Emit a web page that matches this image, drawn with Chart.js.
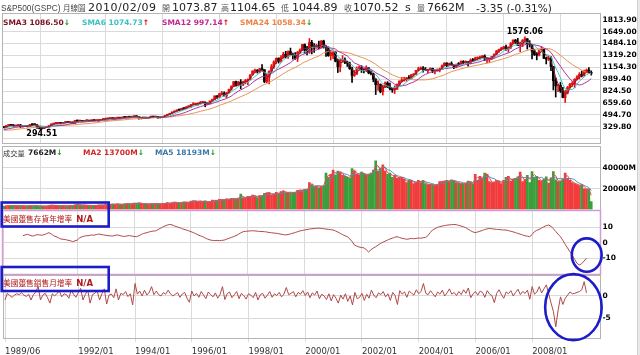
<!DOCTYPE html>
<html><head><meta charset="utf-8">
<script src="https://cdn.jsdelivr.net/npm/chart.js@4.4.1/dist/chart.umd.min.js"></script>
<style>
html,body{margin:0;padding:0;background:#fff;}
#wrap{position:relative;width:640px;height:355px;overflow:hidden;background:#fff;}
#wrap canvas{position:absolute;left:0;top:0;}
.t{position:absolute;white-space:nowrap;line-height:12px;height:12px;transform:translateY(-50%);}
.cj{font-family:"Noto Sans CJK TC","Noto Sans CJK SC",sans-serif;}
.dv{font-family:"DejaVu Sans",sans-serif;}
.b{font-weight:bold;}
.up{color:#e00000;} .dn{color:#1a9a1a;}
#strip{position:absolute;left:637px;top:0;width:3px;height:355px;background:#e8e8e8;border-left:1px solid #d0d0d0;}
</style></head><body>
<div id="wrap">
<canvas id="cPrice" width="640" height="355"></canvas>
<canvas id="cVol" width="640" height="355"></canvas>
<canvas id="cInd1" width="640" height="355"></canvas>
<canvas id="cInd2" width="640" height="355"></canvas>
<div id="strip"></div>

<div class="t" style="left:1px;top:8px;font-size:8.3px;font-family:'Liberation Sans',sans-serif;color:#444">S&amp;P500(GSPC)</div>
<div class="t cj" style="left:63px;top:8px;font-size:7.5px;color:#444">月線圖</div>
<div class="t dv" style="left:88px;top:8px;font-size:11px;letter-spacing:0.5px;color:#222">2010/02/09</div>
<div class="t cj" style="left:162px;top:8px;font-size:8px;color:#555">開</div>
<div class="t dv" style="left:172px;top:8px;font-size:11px;color:#222">1073.87</div>
<div class="t cj" style="left:221px;top:8px;font-size:8px;color:#555">高</div>
<div class="t dv" style="left:230px;top:8px;font-size:11px;color:#222">1104.65</div>
<div class="t cj" style="left:281px;top:8px;font-size:8px;color:#555">低</div>
<div class="t dv" style="left:292px;top:8px;font-size:11px;color:#222">1044.89</div>
<div class="t cj" style="left:344px;top:8px;font-size:8px;color:#555">收</div>
<div class="t dv" style="left:353px;top:8px;font-size:11px;color:#222">1070.52</div>
<div class="t dv" style="left:405px;top:8px;font-size:11px;color:#222">s</div>
<div class="t cj" style="left:417px;top:8px;font-size:8px;color:#555">量</div>
<div class="t dv" style="left:427px;top:8px;font-size:11px;color:#222">7662M</div>
<div class="t dv" style="left:476px;top:8px;font-size:10.5px;color:#222">-3.35 (-0.31%)</div>

<div class="t dv b" style="left:3px;top:22.5px;font-size:7.5px;color:#7a1020">SMA3 1086.50<span class="dn">↓</span></div>
<div class="t dv b" style="left:82px;top:22.5px;font-size:7.5px;color:#3cc0c0">SMA6 1074.73<span class="up">↑</span></div>
<div class="t dv b" style="left:162px;top:22.5px;font-size:7.5px;color:#c02890">SMA12 997.14<span class="up">↑</span></div>
<div class="t dv b" style="left:240px;top:22.5px;font-size:7.5px;color:#ee8040">SMA24 1058.34<span class="dn">↓</span></div>

<div class="t cj" style="left:3px;top:153px;font-size:7.2px;color:#333">成交量</div>
<div class="t dv b" style="left:28px;top:153px;font-size:7.5px;color:#222">7662M<span class="dn">↓</span></div>
<div class="t dv b" style="left:83px;top:153px;font-size:7.5px;color:#d02828">MA2 13700M<span class="dn">↓</span></div>
<div class="t dv b" style="left:155px;top:153px;font-size:7.5px;color:#3a7aa8">MA5 18193M<span class="dn">↓</span></div>

<div id="t1" class="t" style="left:3px;top:216.5px;color:#b01818"><span class="cj" style="font-size:7.7px">美國躉售存貨年增率</span> <span class="dv b" style="font-size:8.5px">N/A</span></div>
<div id="t2" class="t" style="left:3px;top:281px;color:#b01818"><span class="cj" style="font-size:7.7px">美國躉售銷售月增率</span> <span class="dv b" style="font-size:8.5px">N/A</span></div>
</div>

<script>
// ---------- data ----------
const priorCloses = [318.66,329.80,321.83,251.79,230.30,247.08,257.07,267.82,258.89,261.33,262.16,273.50,272.02,261.52,271.91,278.97,273.70,277.72,297.47,288.86,294.87,309.64,320.52];

const closes = [
317.98,346.08,351.45,349.15,340.36,345.99,353.40,
329.08,331.89,339.94,330.80,361.23,358.02,356.15,322.56,306.05,304.00,322.22,330.22,
343.93,367.07,375.22,375.35,389.83,371.16,387.81,395.43,387.86,392.46,375.22,417.09,
408.79,412.70,403.69,414.95,415.35,408.14,424.21,414.03,417.80,418.68,431.35,435.71,
438.78,443.38,451.67,440.19,450.19,450.53,448.13,463.56,458.93,467.83,461.79,466.45,
481.61,467.14,445.77,450.91,456.50,444.27,458.26,475.49,462.69,472.35,453.69,459.27,
470.42,487.39,500.71,514.71,533.40,544.75,562.06,561.88,584.41,581.50,605.37,615.93,
636.02,640.43,645.50,654.17,669.12,670.63,639.95,651.99,687.31,705.27,757.02,740.74,
786.16,790.82,757.12,801.34,848.28,885.14,954.31,899.47,947.28,914.62,955.40,970.43,
980.28,1049.34,1101.75,1111.75,1090.82,1133.84,1120.67,957.28,1017.01,1098.67,1163.63,1229.23,
1279.64,1238.33,1286.37,1335.18,1301.84,1372.71,1328.72,1320.41,1282.71,1362.93,1388.91,1469.25,
1394.46,1366.42,1498.58,1452.43,1420.60,1454.60,1430.83,1517.68,1436.51,1429.40,1314.95,1320.28,
1366.01,1239.94,1160.33,1249.46,1255.82,1224.42,1211.23,1133.58,1040.94,1059.78,1139.45,1148.08,
1130.20,1106.73,1147.39,1076.92,1067.14,989.82,911.62,916.07,815.28,885.76,936.31,879.82,
855.70,841.15,848.18,916.92,963.59,974.50,990.31,1008.01,995.97,1050.71,1058.20,1111.92,
1131.13,1144.94,1126.21,1107.30,1120.68,1140.84,1101.72,1104.24,1114.58,1130.20,1173.82,1211.92,
1181.27,1203.60,1180.59,1156.85,1191.50,1191.33,1234.18,1220.33,1228.81,1207.01,1249.48,1248.29,
1280.08,1280.66,1294.83,1310.61,1270.09,1270.20,1276.66,1303.82,1335.85,1377.94,1400.63,1418.30,
1438.24,1406.82,1420.86,1482.37,1530.62,1503.35,1455.27,1473.99,1526.75,1549.38,1481.14,1468.36,
1378.55,1330.63,1322.70,1385.59,1400.38,1280.00,1267.38,1282.83,1166.36,968.75,896.24,903.25,
825.88,735.09,797.87,872.81,919.14,919.32,987.48,1020.62,1057.08,1036.19,1095.63,1115.10,
1073.87,1070.52];

const highs = [
328.0,346.5,360.0,354.0,360.4,347.0,359.0,
360.6,336.1,344.5,344.3,361.5,368.0,369.8,359.0,325.0,315.0,323.0,332.0,
345.0,370.0,378.0,391.3,390.5,391.0,389.0,397.6,397.0,395.0,398.0,418.0,
420.8,418.0,414.0,418.0,420.0,417.0,426.0,427.0,423.0,422.0,432.0,441.0,
442.0,449.5,456.0,453.0,452.0,455.0,453.0,465.0,466.0,470.0,468.0,471.0,
482.9,482.0,469.0,453.0,457.6,462.0,460.0,477.0,479.0,477.0,475.0,465.0,
473.0,489.0,504.0,517.0,535.0,551.0,563.8,565.0,587.0,590.0,608.0,622.9,
639.0,664.6,656.0,657.0,681.0,680.0,675.0,666.0,690.0,714.0,758.0,761.0,
794.7,817.7,814.9,806.0,853.0,898.7,957.7,961.0,960.0,983.1,961.0,986.0,
992.6,1051.0,1106.0,1130.5,1123.0,1139.0,1190.6,1121.5,1066.1,1103.8,1193.0,1244.9,
1283.0,1285.0,1316.6,1362.8,1376.0,1383.0,1420.3,1352.0,1358.0,1375.0,1410.5,1473.0,
1478.0,1445.0,1552.9,1527.2,1481.5,1474.6,1517.3,1525.2,1530.1,1454.8,1438.5,1389.6,
1383.4,1376.4,1267.4,1269.3,1316.0,1286.6,1239.8,1226.3,1155.4,1110.6,1160.3,1173.6,
1176.6,1130.5,1173.9,1147.8,1106.6,1070.7,994.5,965.0,924.0,907.4,951.6,954.3,
935.1,864.6,895.9,924.2,965.4,1015.3,1015.4,1011.0,1040.3,1053.8,1063.7,1112.6,
1155.4,1159.0,1163.2,1150.6,1127.7,1146.3,1142.0,1109.7,1131.5,1142.1,1188.5,1217.3,
1217.8,1212.4,1229.1,1191.9,1199.6,1219.6,1245.2,1245.9,1243.1,1233.3,1270.6,1275.8,
1294.9,1297.6,1310.9,1318.2,1326.7,1290.7,1280.4,1306.7,1340.3,1389.5,1407.9,1431.8,
1441.6,1461.6,1438.9,1498.0,1535.6,1540.6,1555.9,1503.9,1538.7,1576.06,1550.0,1523.6,
1471.8,1396.0,1359.7,1397.0,1440.2,1404.1,1292.2,1313.2,1303.0,1167.0,1007.5,918.9,
943.9,875.0,833.0,888.7,930.2,956.2,996.7,1039.5,1080.2,1101.4,1113.7,1130.4,
1150.5,1104.65];

const lows = [
314.0,316.5,341.0,344.0,327.0,336.0,339.0,
319.8,322.1,331.1,324.9,329.7,354.6,352.0,307.0,299.9,294.51,303.0,321.5,
309.4,341.9,363.0,368.6,374.0,368.0,370.0,378.6,384.5,379.4,374.0,371.5,
406.0,407.0,401.0,398.0,411.0,401.0,407.0,410.0,412.0,402.0,416.0,425.0,
426.0,431.0,440.0,434.0,436.0,441.0,441.0,446.0,455.0,457.0,454.0,460.0,
464.0,465.0,436.0,435.9,442.0,441.0,443.0,457.0,460.0,457.0,449.0,450.0,
457.0,469.0,481.0,500.0,513.0,532.0,544.0,553.0,561.0,573.0,580.0,601.0,
597.0,633.0,627.0,626.0,643.0,662.0,605.9,639.0,649.0,684.0,703.0,722.0,
737.0,773.0,756.0,733.5,794.0,837.0,884.0,893.0,899.0,855.3,900.0,924.0,
912.8,980.0,1047.0,1076.7,1074.0,1077.0,1114.0,939.98,939.9,923.3,1096.0,1136.9,
1205.0,1212.0,1226.0,1282.0,1281.0,1277.0,1325.0,1268.0,1263.0,1233.7,1342.0,1387.0,
1350.1,1325.1,1346.0,1339.4,1361.1,1420.0,1413.9,1428.0,1419.4,1305.8,1305.8,1254.1,
1274.6,1228.9,1081.2,1091.0,1232.0,1203.0,1165.5,1124.9,944.75,1026.8,1054.3,1114.3,
1081.7,1074.4,1094.0,1063.5,1048.9,952.9,775.7,833.4,800.2,768.6,872.1,873.3,
840.3,806.3,788.9,847.9,902.8,951.0,962.1,960.8,990.4,994.5,1031.2,1055.0,
1105.1,1124.4,1087.2,1107.2,1076.3,1113.3,1078.8,1060.7,1101.3,1090.2,1127.0,1173.8,
1163.8,1180.3,1176.9,1136.2,1146.2,1188.3,1183.6,1201.1,1205.4,1168.2,1201.1,1246.6,
1245.7,1253.6,1268.4,1280.7,1245.3,1219.3,1224.5,1261.3,1290.9,1327.1,1360.98,1385.9,
1403.97,1389.4,1363.98,1416.4,1476.7,1484.2,1454.3,1370.6,1439.3,1489.6,1406.1,1435.7,
1270.1,1316.8,1256.98,1312.0,1373.1,1272.0,1200.4,1247.4,1106.4,839.8,741.0,815.7,
804.3,731.0,666.79,783.3,866.1,888.9,869.3,978.5,991.97,1020.2,1029.4,1085.9,
1071.6,1044.89];

const volumes = [
3300,3500,3800,3500,4000,3300,3400,
3800,3200,3400,3200,3700,3400,3600,3500,3100,3400,3100,3200,
3800,4300,3900,3800,3600,3400,3500,3400,3400,3800,3700,4400,
4900,4300,4100,4100,3700,3800,3700,3600,4100,4300,4200,4300,
4700,5000,5100,5200,5000,5400,4800,4900,5400,5600,5500,5400,
6200,5900,6400,5600,5200,5400,4900,5600,5500,5600,5600,5300,
5900,5800,6700,5700,6600,7200,6400,6300,6600,7400,7000,6900,
8200,8400,8100,7600,8000,7300,8300,6800,7500,9000,8600,8900,
9900,9200,9400,10200,9700,10800,10300,10000,11000,14800,10700,11600,
12600,12200,13800,13000,11600,13300,13100,15700,16000,16200,14000,14500,
16500,15000,17200,18000,16000,16400,15800,16100,16700,18400,18800,18500,
19500,19000,26000,24000,22000,22500,21000,22500,23000,35000,31000,34000,
38000,33000,37000,36000,33000,32000,31000,30000,39500,37000,34000,33000,
36000,34000,33000,34000,35000,38000,47000,37000,40000,43000,37000,34000,
35000,31000,33000,30000,31000,31000,29000,26000,28000,28000,25000,26000,
28000,26000,28000,25000,24000,24000,24000,23000,24000,27000,27000,27500,
28000,27000,28500,27500,26000,25500,24500,25000,25500,27500,26500,25000,
34000,28000,32000,30000,35000,34000,27000,26000,26500,28000,27500,25000,
28000,31000,32000,27500,29000,30000,31500,36000,27000,29000,33000,26000,
36500,31000,32000,28000,27500,29000,31500,25500,30500,36500,28500,27000,
27500,29000,35000,30000,28000,26000,25000,24000,23000,24000,20000,19565,
19738,7662];

// 美國躉售存貨年增率 (%), monthly from 1990/02
const ind1Start = '1990/02';
const ind1Values = [
4.5,5.0,5.4,4.8,4.3,4.6,5.2,5.0,4.8,5.2,5.8,
6.5,5.6,4.5,3.9,3.2,2.4,2.2,2.0,1.6,1.3,0.7,1.2,
1.7,3.2,3.8,4.3,4.5,4.6,5.0,4.8,5.2,5.6,5.3,5.0,
4.8,4.5,4.4,4.3,4.8,5.0,4.6,4.2,4.0,4.4,4.6,4.3,
4.0,3.9,4.5,5.3,6.0,6.3,6.8,7.2,7.5,7.6,8.4,9.2,
10.0,10.8,11.4,11.8,11.5,10.8,10.3,9.8,9.2,8.6,8.2,7.7,
7.1,6.5,5.8,5.0,4.4,3.9,3.0,2.3,1.8,1.5,1.4,1.5,
1.3,1.5,1.7,2.2,2.8,3.4,3.9,4.6,5.4,6.3,7.1,7.3,
7.5,7.6,7.7,7.6,7.4,7.3,7.2,7.1,6.9,6.6,6.4,6.2,
6.1,5.8,5.5,5.2,5.0,5.3,5.7,6.1,6.6,7.1,7.6,7.9,
8.2,8.5,8.8,9.0,9.1,9.3,9.4,9.2,9.0,8.8,8.6,8.4,
8.2,7.6,6.9,6.0,5.2,4.5,3.9,2.5,0.8,-1.5,-2.2,-2.8,
-3.1,-3.3,-4.5,-6.0,-4.5,-3.4,-2.6,-1.5,-0.5,0.3,1.0,1.7,
2.4,2.9,3.5,3.9,3.4,2.9,2.6,2.2,2.4,2.8,2.5,2.8,
3.0,2.9,3.2,3.4,4.5,6.5,8.2,9.0,9.8,10.4,10.7,11.0,
11.3,11.5,11.6,11.8,11.6,11.2,10.8,10.3,9.7,8.7,7.8,7.0,
6.5,6.9,7.4,7.9,8.5,8.9,9.2,9.0,8.8,8.6,8.5,8.3,
8.2,8.2,7.8,7.4,7.0,6.5,6.0,5.5,5.0,4.5,4.2,3.9,
5.2,7.1,8.0,8.6,9.4,10.3,11.0,11.4,10.6,9.0,7.3,5.5,
3.9,1.5,-1.0,-3.4,-5.8,-8.2,-10.8,-13.3,-14.4,-13.5,-11.8,-10.0];

// 美國躉售銷售月增率 (%), monthly from 1989/06
const ind2Start = '1989/06';
const ind2Values = [
-0.9,0.6,0.1,-0.3,0.2,0.5,0.3,0.7,0.2,-0.1,0.4,-0.9,0.3,0.8,2.2,-0.9,
0.2,0.6,-0.4,-1.6,0.5,0.0,0.6,1.1,-0.2,0.5,0.3,-0.5,1.3,0.4,-0.3,0.8,
1.7,-0.9,0.4,1.3,-1.6,0.3,0.6,1.1,-0.9,0.5,1.6,-1.8,0.2,0.45,-0.4,1.6,
-0.9,0.6,0.3,1.0,-0.15,0.5,-2.0,2.8,0.4,1.1,0.0,1.3,0.2,0.8,2.1,0.3,
1.1,0.3,0.0,0.75,0.4,1.3,0.5,0.0,0.4,0.75,-0.3,0.45,0.8,-0.5,-1.4,1.1,
0.0,0.6,-0.3,1.0,0.2,-0.6,0.9,0.3,-0.2,0.7,-0.5,0.4,2.1,-0.8,0.5,0.9,
-0.4,0.3,1.0,-0.6,0.6,0.1,-0.7,0.5,0.2,-0.4,0.8,-0.9,0.3,0.6,-0.5,0.2,
1.0,-0.3,0.5,0.1,0.8,-0.2,0.4,1.9,0.3,0.6,1.0,-0.2,0.8,0.4,1.2,0.1,
0.9,-0.4,0.7,0.2,1.1,-0.6,0.4,0.0,-0.8,0.5,-1.1,0.3,-0.5,-1.6,0.2,-0.7,
0.5,-1.2,0.0,-2.0,0.8,-0.6,-0.3,0.6,-1.0,0.4,-0.5,1.3,0.2,-0.4,0.7,0.3,
1.0,-0.2,0.5,-1.0,0.8,0.1,-1.9,1.2,0.4,0.9,-0.3,1.1,0.6,0.2,1.4,0.5,
1.0,2.8,0.6,0.3,1.2,0.5,-0.2,0.9,0.4,1.3,0.0,0.7,1.6,0.4,0.8,0.1,
1.0,0.3,1.4,0.6,1.8,-0.4,0.5,1.0,0.2,1.1,0.8,-0.3,1.2,0.4,0.1,-1.5,
0.6,1.4,0.3,-0.5,0.9,0.5,1.2,0.0,0.8,1.5,0.3,1.0,0.6,1.3,-0.75,2.1,
0.4,0.9,2.1,0.7,1.6,2.5,0.5,-1.6,-3.5,-6.9,-3.1,-0.2,-1.9,-0.5,0.2,0.9,
0.5,0.6,0.8,1.0,1.4,3.2,0.7];

const tickLabels = ['1989/06','1992/01','1994/01','1996/01','1998/01','2000/01','2002/01','2004/01','2006/01','2008/01'];
const priceTicks = [164.9,329.8,494.7,659.6,824.5,989.4,1154.3,1319.2,1484.1,1649.0,1813.9];
const volTicks = [20000,40000];
const ind1Ticks = [-10,0,10];
const ind2Ticks = [-5,0];

// hand-drawn blue marks (data space of their panels)
const ind1Circle = {from:239.8, to:252.4, lo:-18.7, hi:2.8};
const ind2Circle = {from:228.5, to:252.4, lo:-9.9, hi:4.9};

// ---------- derived ----------
const months = [];
{ let y = 1989, m = 6; while (months.length < closes.length) { months.push(y + '/' + String(m).padStart(2,'0')); if (++m > 12) { m = 1; y++; } } }
const opens = closes.map((c,i) => i === 0 ? priorCloses[priorCloses.length-1] : closes[i-1]);
const isUp = closes.map((c,i) => c >= opens[i]);
const allCloses = priorCloses.concat(closes);
function sma(n){
  const out = [];
  closes.forEach((c,i) => { const j = i + priorCloses.length; if (j+1 < n) return; let s = 0; for (let k=j-n+1;k<=j;k++) s += allCloses[k]; out.push({x:i, y:s/n}); });
  return out;
}
function volMA(n){
  const out = [];
  volumes.forEach((v,i) => { if (i+1 < n) return; let s = 0; for (let k=i-n+1;k<=i;k++) s += volumes[k]; out.push({x:i, y:s/n}); });
  return out;
}
const tickIdx = tickLabels.map(l => months.indexOf(l));
const i1 = months.indexOf(ind1Start), i2 = months.indexOf(ind2Start);

const X_MIN = -0.38, X_MAX = 251.7;
const GRID = '#dadada';
const UPC = '#e41010', DNC = '#000000';

function xScale(show){
  return { type:'linear', min:X_MIN, max:X_MAX, offset:false,
    afterBuildTicks: s => { s.ticks = tickIdx.map(v => ({value:v})); },
    afterFit: s => { s.height = show ? 17 : 0; },
    grid:{ color:GRID, drawTicks:show, tickLength:4, lineWidth:1 },
    border:{ display:false },
    ticks:{ display:show, autoSkip:false, maxRotation:0, align:'start', padding:5, color:'#333',
      font:{family:'DejaVu Sans', size:8.5}, callback: v => months[v] } };
}
function yScale(min, max, ticks, fmt, gridColor){
  return { type:'linear', position:'right', min, max,
    afterBuildTicks: s => { s.ticks = ticks.map(v => ({value:v})); },
    afterFit: s => { s.width = 40; },
    grid:{ color: gridColor || GRID, drawTicks:false, lineWidth:1 },
    border:{ display:false },
    ticks:{ padding:2.5, color:'#000', font:{family:'DejaVu Sans', size:7.5, weight:'bold'}, callback: fmt } };
}
function opts(top, bottom, xs, ys, extra){
  return Object.assign({ responsive:false, animation:false, events:[], devicePixelRatio:1,
    layout:{ padding:{ top, bottom, left:3, right:0 } },
    plugins: Object.assign({ legend:{display:false}, tooltip:{enabled:false} }, extra || {}),
    scales:{ x:xs, y:ys } });
}

const frame = { id:'frame', afterDraw(chart, args, o){
  const {ctx, chartArea:a} = chart; ctx.save(); ctx.strokeStyle = o.color; ctx.lineWidth = o.width || 1;
  ctx.strokeRect(Math.round(a.left)-0.5, Math.round(a.top)-0.5, Math.round(a.right-a.left)+1, Math.round(a.bottom-a.top)+1);
  ctx.restore(); } };

const extremes = { id:'extremes', afterDatasetsDraw(chart){
  const {ctx, scales:{x, y}} = chart;
  let iMin = 0, iMax = 0;
  lows.forEach((v,i) => { if (v < lows[iMin]) iMin = i; });
  highs.forEach((v,i) => { if (v > highs[iMax]) iMax = i; });
  ctx.save(); ctx.font = 'bold 8px "DejaVu Sans"'; ctx.fillStyle = '#000'; ctx.textAlign = 'center';
  ctx.textBaseline = 'top'; ctx.fillText(lows[iMin].toFixed(2), x.getPixelForValue(iMin), y.getPixelForValue(lows[iMin]) + 1);
  ctx.textBaseline = 'bottom'; ctx.fillText(highs[iMax].toFixed(2), x.getPixelForValue(iMax), y.getPixelForValue(highs[iMax]) - 1);
  ctx.restore(); } };

const marks = { id:'marks', afterDraw(chart, args, o){
  const {ctx, scales:{x, y}} = chart;
  ctx.save(); ctx.strokeStyle = '#1c1cc8'; ctx.lineWidth = 2.6;
  const el = document.getElementById(o.titleId).getBoundingClientRect();
  const w = document.getElementById('wrap').getBoundingClientRect();
  const cy = el.top - w.top + el.height/2;
  ctx.strokeRect(el.left - w.left - 1.3, cy - 14, el.width + 17, 24);
  const c = o.circle;
  const x0 = x.getPixelForValue(c.from), x1 = x.getPixelForValue(c.to);
  const y0 = y.getPixelForValue(c.hi), y1 = y.getPixelForValue(c.lo);
  ctx.beginPath(); ctx.ellipse((x0+x1)/2, (y0+y1)/2, (x1-x0)/2, (y1-y0)/2, 0, 0, Math.PI*2); ctx.stroke();
  ctx.restore(); } };

// ---------- price ----------
const lineDs = (data, color) => ({ type:'line', data, borderColor:color, borderWidth:1, pointRadius:0, fill:false, tension:0 });
new Chart(document.getElementById('cPrice'), {
  type:'bar',
  data:{ datasets:[
    lineDs(sma(3), '#8b1a2b'),
    lineDs(sma(6), '#3cc8c8'),
    lineDs(sma(12), '#b030a0'),
    lineDs(sma(24), '#e89050'),
    { data: closes.map((c,i) => ({x:i, y:[Math.min(opens[i],c), Math.max(opens[i],c)]})), backgroundColor: isUp.map(u => u ? UPC : DNC), barThickness:2, minBarLength:1, grouped:false, borderWidth:0 },
    { data: closes.map((c,i) => ({x:i, y:[lows[i], highs[i]]})), backgroundColor: isUp.map(u => u ? UPC : DNC), barThickness:1, grouped:false, borderWidth:0 }
  ]},
  options: opts(14, 212, xScale(false),
    Object.assign(yScale(104, 1893, priceTicks, v => v < 200 ? '' : v.toFixed(2)),
      { grid:{ color: c => (c.tick && c.tick.value > 1800) ? 'rgba(0,0,0,0)' : GRID, drawTicks:false } }),
    { frame:{color:'#b4b4b4'} }),
  plugins:[frame, extremes]
});

// ---------- volume ----------
new Chart(document.getElementById('cVol'), {
  type:'bar',
  data:{ datasets:[
    lineDs(volMA(2), '#e05050'),
    lineDs(volMA(5), '#5090c0'),
    { data: volumes.map((v,i) => ({x:i, y:v})), backgroundColor: isUp.map(u => u ? '#f03c3c' : '#3a9e3a'), barThickness:2, grouped:false, borderWidth:0 }
  ]},
  options: opts(147, 145.5, xScale(false), yScale(0, 60240, volTicks, v => v + 'M'), { frame:{color:'#b4b4b4'} }),
  plugins:[frame]
});

// ---------- indicator 1 ----------
new Chart(document.getElementById('cInd1'), {
  type:'line',
  data:{ datasets:[ lineDs(ind1Values.map((v,k) => ({x:i1+k, y:v})), '#b04848') ] },
  options: opts(211, 81, xScale(false), yScale(-20.19, 20.45, ind1Ticks, v => String(v)),
    { frame:{color:'#d49ad4', width:1.5}, marks:{titleId:'t1', circle:ind1Circle} }),
  plugins:[frame, marks]
});

// ---------- indicator 2 ----------
new Chart(document.getElementById('cInd2'), {
  type:'line',
  data:{ datasets:[ lineDs(ind2Values.map((v,k) => ({x:i2+k, y:v})), '#b04848') ] },
  options: opts(276, 0, xScale(true), yScale(-9.42, 4.48, ind2Ticks, v => String(v)),
    { frame:{color:'#b4b4b4'}, marks:{titleId:'t2', circle:ind2Circle} }),
  plugins:[frame, marks]
});
</script>
</body></html>
